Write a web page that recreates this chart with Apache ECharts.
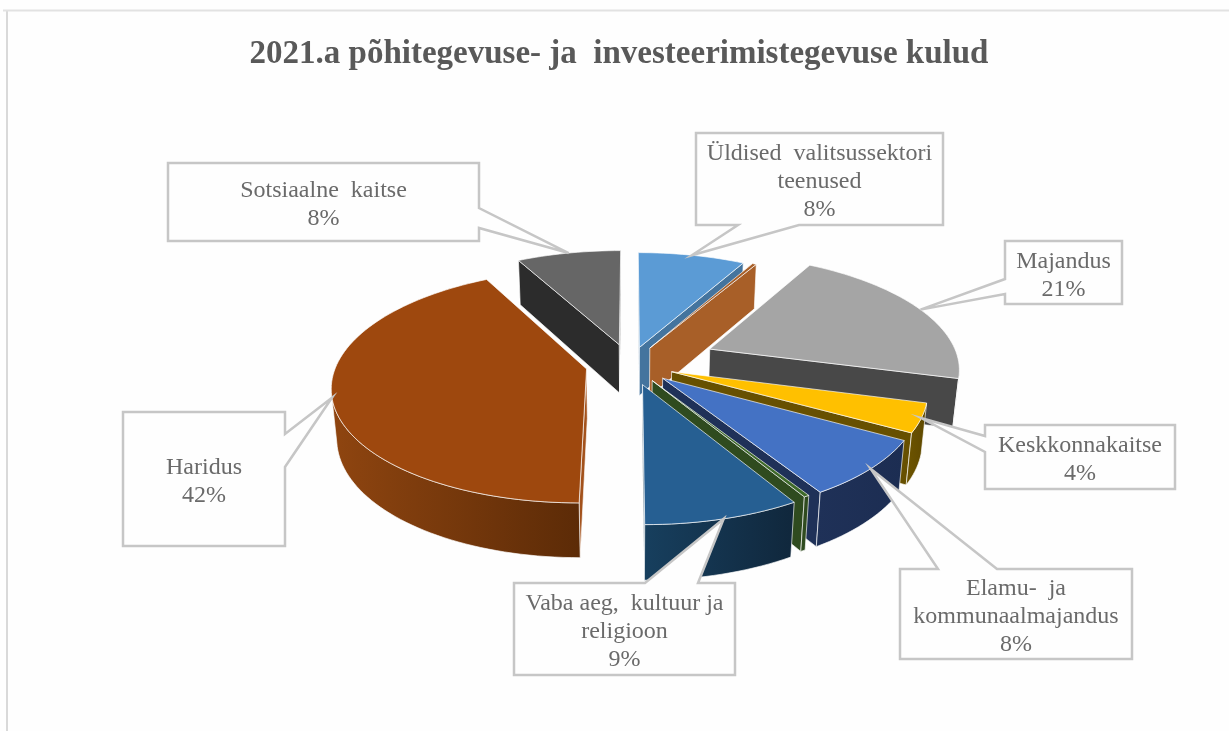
<!DOCTYPE html>
<html>
<head>
<meta charset="utf-8">
<title>2021.a kulud</title>
<script src="https://cdn.jsdelivr.net/npm/echarts@6/dist/echarts.min.js"></script>
<style>
  html, body { margin: 0; padding: 0; background: #fefefe; }
  #chart { width: 1229px; height: 731px; }
</style>
</head>
<body>
<div id="chart"></div>
<script>
// data, clockwise from 12 o'clock. The two thin slices have no label in the picture
var categories = [
  "Üldised  valitsussektori\nteenused",
  "Avalik kord",
  "Majandus",
  "Keskkonnakaitse",
  "Elamu-  ja\nkommunaalmajandus",
  "Tervishoid",
  "Vaba aeg,  kultuur ja\nreligioon",
  "Haridus",
  "Sotsiaalne  kaitse"
];
var values = [8.0, 0.3, 20.9, 4.0, 8.0, 0.3, 8.5, 42.2, 7.8];
var showLabel = [true, false, true, true, true, false, true, true, true];

// how far every slice is pulled out of the pie (1 = radius)
var explode = [0.155, 0.165, 0.352, 0.178, 0.178, 0.168, 0.185, 0.178, 0.18];

var topColors = ["#5b9bd5", "#a85f28", "#a5a5a5", "#ffc000", "#4472c4", "#3f6a2a", "#265f92", "#9e480e", "#666666"];
var cutColors = ["#44749e", "#a85f28", "#484848", "#675000", "#1f3158", "#2f4b1f", "#173f5e", "#a3521c", "#2c2c2c"];
var wallFrom = ["#3d6a92", "#a85f28", "#4a4a4a", "#6e5500", "#1f3158", "#2f4b1f", "#173f5e", "#8f4510", "#2c2c2c"];
var wallTo = ["#3d6a92", "#a85f28", "#444444", "#5e4800", "#1c2d52", "#2f4b1f", "#10273c", "#5c2b07", "#2c2c2c"];

// callout boxes: x0, y0, x1, y1, side of the pointer, pointer base a, b
var boxes = [
  [696, 133, 943, 225, "bottom", 738, 799],
  null,
  [1005, 241, 1122, 304, "left", 279, 294],
  [985, 425, 1175, 489, "left", 436, 452],
  [900, 569, 1132, 659, "top", 938, 997],
  null,
  [514, 583, 735, 675, "top", 645, 698],
  [123, 412, 285, 546, "right", 434, 467],
  [168, 163, 479, 241, "right", 208, 228]
];

// projection of the tilted pie
var cx = 630, cy = 364, radius = 250, flat = 113, persp = 0.145, thick = 50, sink = 0.018;

var total = 0;
for (var i = 0; i < values.length; i++) total += values[i];

function project(x, y, z) {
  var w = 1 - persp * y + sink * z;
  return [cx + radius * x / w, cy + (flat * y + thick * z) / w];
}

function sliceAngles(index) {
  var a = 0;
  for (var j = 0; j < index; j++) a += values[j];
  return [a / total * Math.PI * 2, (a + values[index]) / total * Math.PI * 2];
}

function rimPoint(index, angle, z) {
  var ang = sliceAngles(index);
  var mid = (ang[0] + ang[1]) / 2;
  var ox = explode[index] * Math.sin(mid);
  var oy = -explode[index] * Math.cos(mid);
  return project(ox + Math.sin(angle), oy - Math.cos(angle), z);
}

function apexPoint(index, z) {
  var ang = sliceAngles(index);
  var mid = (ang[0] + ang[1]) / 2;
  return project(explode[index] * Math.sin(mid), -explode[index] * Math.cos(mid), z);
}

function polygon(points, fill, z2) {
  return {
    type: "polygon",
    z2: z2,
    shape: { points: points },
    style: { fill: fill, stroke: "rgba(255,255,255,0.65)", lineWidth: 1, lineJoin: "round" }
  };
}

function calloutPoints(b, tip) {
  var pts = [[b[0], b[1]]];
  if (b[4] == "top") pts.push([b[5], b[1]], tip, [b[6], b[1]]);
  pts.push([b[2], b[1]]);
  if (b[4] == "right") pts.push([b[2], b[5]], tip, [b[2], b[6]]);
  pts.push([b[2], b[3]]);
  if (b[4] == "bottom") pts.push([b[6], b[3]], tip, [b[5], b[3]]);
  pts.push([b[0], b[3]]);
  if (b[4] == "left") pts.push([b[0], b[6]], tip, [b[0], b[5]]);
  return pts;
}

function renderSlice(params, api) {
  var i = params.dataIndex;
  var ang = sliceAngles(i);
  var mid = (ang[0] + ang[1]) / 2;
  var steps = Math.max(2, Math.ceil((ang[1] - ang[0]) / 0.03));
  var rimTop = [], rimBottom = [];
  for (var s = 0; s <= steps; s++) {
    var t = ang[0] + (ang[1] - ang[0]) * s / steps;
    rimTop.push(rimPoint(i, t, 0));
    rimBottom.push(rimPoint(i, t, 1));
  }
  var apexTop = apexPoint(i, 0);
  var apexBottom = apexPoint(i, 1);

  // slices further back are painted first
  var base = (Math.PI - Math.abs(mid - Math.PI)) * 10;
  var children = [];

  // the two cut faces, a face is only drawn when it looks to the viewer
  var first = [apexTop, rimTop[0], rimBottom[0], apexBottom];
  var last = [rimTop[steps], apexTop, apexBottom, rimBottom[steps]];
  if (rimTop[0][0] < apexTop[0]) children.push(polygon(first, cutColors[i], base + 1));
  if (apexTop[0] < rimTop[steps][0]) children.push(polygon(last, cutColors[i], base + 1));

  // outer wall, only the part where the rim runs right to left
  var wallTop = [], wallBottom = [];
  for (var s2 = 0; s2 <= steps; s2++) {
    var before = rimTop[Math.max(s2 - 1, 0)][0];
    var after = rimTop[Math.min(s2 + 1, steps)][0];
    if (after < before) {
      wallTop.push(rimTop[s2]);
      wallBottom.push(rimBottom[s2]);
    }
  }
  if (wallTop.length > 1) {
    var wallFill = new echarts.graphic.LinearGradient(0, 0, 1, 0, [
      { offset: 0, color: wallFrom[i] },
      { offset: 1, color: wallTo[i] }
    ]);
    children.push(polygon(wallTop.concat(wallBottom.slice().reverse()), wallFill, base + 2));
  }

  // top face
  children.push(polygon([apexTop].concat(rimTop), topColors[i], base + 3));

  if (showLabel[i]) {
    var b = boxes[i];
    var tip = rimPoint(i, mid, 0);
    children.push({
      type: "polygon",
      z2: 200,
      shape: { points: calloutPoints(b, tip) },
      style: { fill: "#fefefe", stroke: "#c6c6c6", lineWidth: 2.5, lineJoin: "miter" }
    });
    var share = Math.round(api.value(0) / total * 100);
    children.push({
      type: "text",
      z2: 201,
      style: {
        text: categories[i] + "\n" + share + "%",
        x: (b[0] + b[2]) / 2,
        y: (b[1] + b[3]) / 2 + 3,
        align: "center",
        verticalAlign: "middle",
        font: '24px "Liberation Serif"',
        lineHeight: 28,
        fill: "#6a6a6a"
      }
    });
  }
  return { type: "group", children: children };
}

var chart = echarts.init(document.getElementById("chart"));
var option = {
  animation: false,
  backgroundColor: "#fefefe",
  title: {
    text: "2021.a põhitegevuse- ja  investeerimistegevuse kulud",
    left: 614,
    top: 33,
    textAlign: "center",
    textStyle: {
      fontFamily: "Liberation Serif",
      fontWeight: "bold",
      fontSize: 33,
      color: "#595959"
    }
  },
  graphic: [
    { type: "line", shape: { x1: 7, y1: 10, x2: 7, y2: 731 }, style: { stroke: "#d9d9d9", lineWidth: 2 } },
    { type: "line", shape: { x1: 3, y1: 10.5, x2: 1229, y2: 10.5 }, style: { stroke: "#e2e2e2", lineWidth: 2 } }
  ],
  series: [{
    type: "custom",
    coordinateSystem: "none",
    silent: true,
    renderItem: renderSlice,
    data: values
  }]
};
chart.setOption(option);
window.addEventListener("resize", function () {
  chart.resize();
});
</script>
</body>
</html>
